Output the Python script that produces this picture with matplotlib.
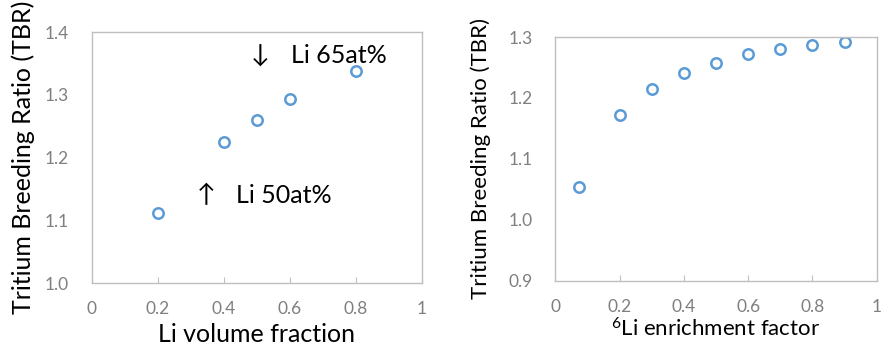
import matplotlib
matplotlib.use("Agg")
import matplotlib.pyplot as plt

# left panel: TBR vs Li volume fraction
li_frac = [0.2, 0.4, 0.5, 0.6, 0.8]
tbr_frac = [1.112, 1.224, 1.260, 1.293, 1.338]

# right panel: TBR vs 6Li enrichment
li6_enr = [0.075, 0.2, 0.3, 0.4, 0.5, 0.6, 0.7, 0.8, 0.9]
tbr_enr = [1.054, 1.172, 1.215, 1.241, 1.258, 1.272, 1.280, 1.287, 1.292]

left_yticks = [1.0, 1.1, 1.2, 1.3, 1.4]
right_yticks = [0.9, 1.0, 1.1, 1.2, 1.3]
xticks = [0, 0.2, 0.4, 0.6, 0.8, 1]
xticklabels = ["0", "0.2", "0.4", "0.6", "0.8", "1"]

FAM = ["Lato", "DejaVu Sans"]
plt.rcParams["font.family"] = FAM
plt.rcParams["mathtext.fontset"] = "custom"
plt.rcParams["mathtext.rm"] = "Lato"
plt.rcParams["mathtext.default"] = "rm"

BLUE = "#5b9bd5"
FRAME = "#bfbfbf"
TICKC = "#7f7f7f"


def style_axes(ax, yticks, ypad):
    for s in ax.spines.values():
        s.set_color(FRAME)
        s.set_linewidth(1.0)
    ax.set_xlim(0, 1)
    ax.set_ylim(yticks[0], yticks[-1])
    ax.set_xticks(xticks)
    ax.set_xticklabels(xticklabels)
    ax.set_yticks(yticks)
    ax.set_yticklabels(["%.1f" % v for v in yticks])
    ax.tick_params(axis="x", direction="in", length=4, color=FRAME,
                   labelsize=12.5, labelcolor=TICKC, pad=13)
    ax.tick_params(axis="y", length=0, labelsize=12.5, labelcolor=TICKC, pad=ypad)


fig = plt.figure(figsize=(8.82, 3.46), dpi=100)

ax1 = fig.add_axes([0.1043, 0.182, 0.374, 0.7255])
style_axes(ax1, left_yticks, 17)
ax1.plot(li_frac, tbr_frac, "o", ms=7.5, mfc="none", mec=BLUE, mew=1.8)
ax1.set_ylabel("Tritium Breeding Ratio (TBR)", fontsize=18)
ax1.yaxis.set_label_coords(-0.173, 0.5)
ax1.set_xlabel("Li volume fraction", fontsize=18)
ax1.xaxis.set_label_coords(0.5, -0.158)
ax1.text(0.509, 1.363, "\u2193", fontsize=18, ha="center", va="center")
ax1.text(0.603, 1.363, "Li 65at%", fontsize=18, ha="left", va="center")
ax1.text(0.345, 1.140, "\u2191", fontsize=18, ha="center", va="center")
ax1.text(0.436, 1.140, "Li 50at%", fontsize=18, ha="left", va="center")

ax2 = fig.add_axes([0.6296, 0.1887, 0.3644, 0.7043])
style_axes(ax2, right_yticks, 16)
ax2.plot(li6_enr, tbr_enr, "o", ms=7.5, mfc="none", mec=BLUE, mew=1.8)
ax2.set_ylabel("Tritium Breeding Ratio (TBR)", fontsize=16)
ax2.yaxis.set_label_coords(-0.2, 0.5)
ax2.set_xlabel("$^{6}$Li enrichment factor", fontsize=16)
ax2.xaxis.set_label_coords(0.5, -0.15)

fig.savefig("out.png", dpi=100)
